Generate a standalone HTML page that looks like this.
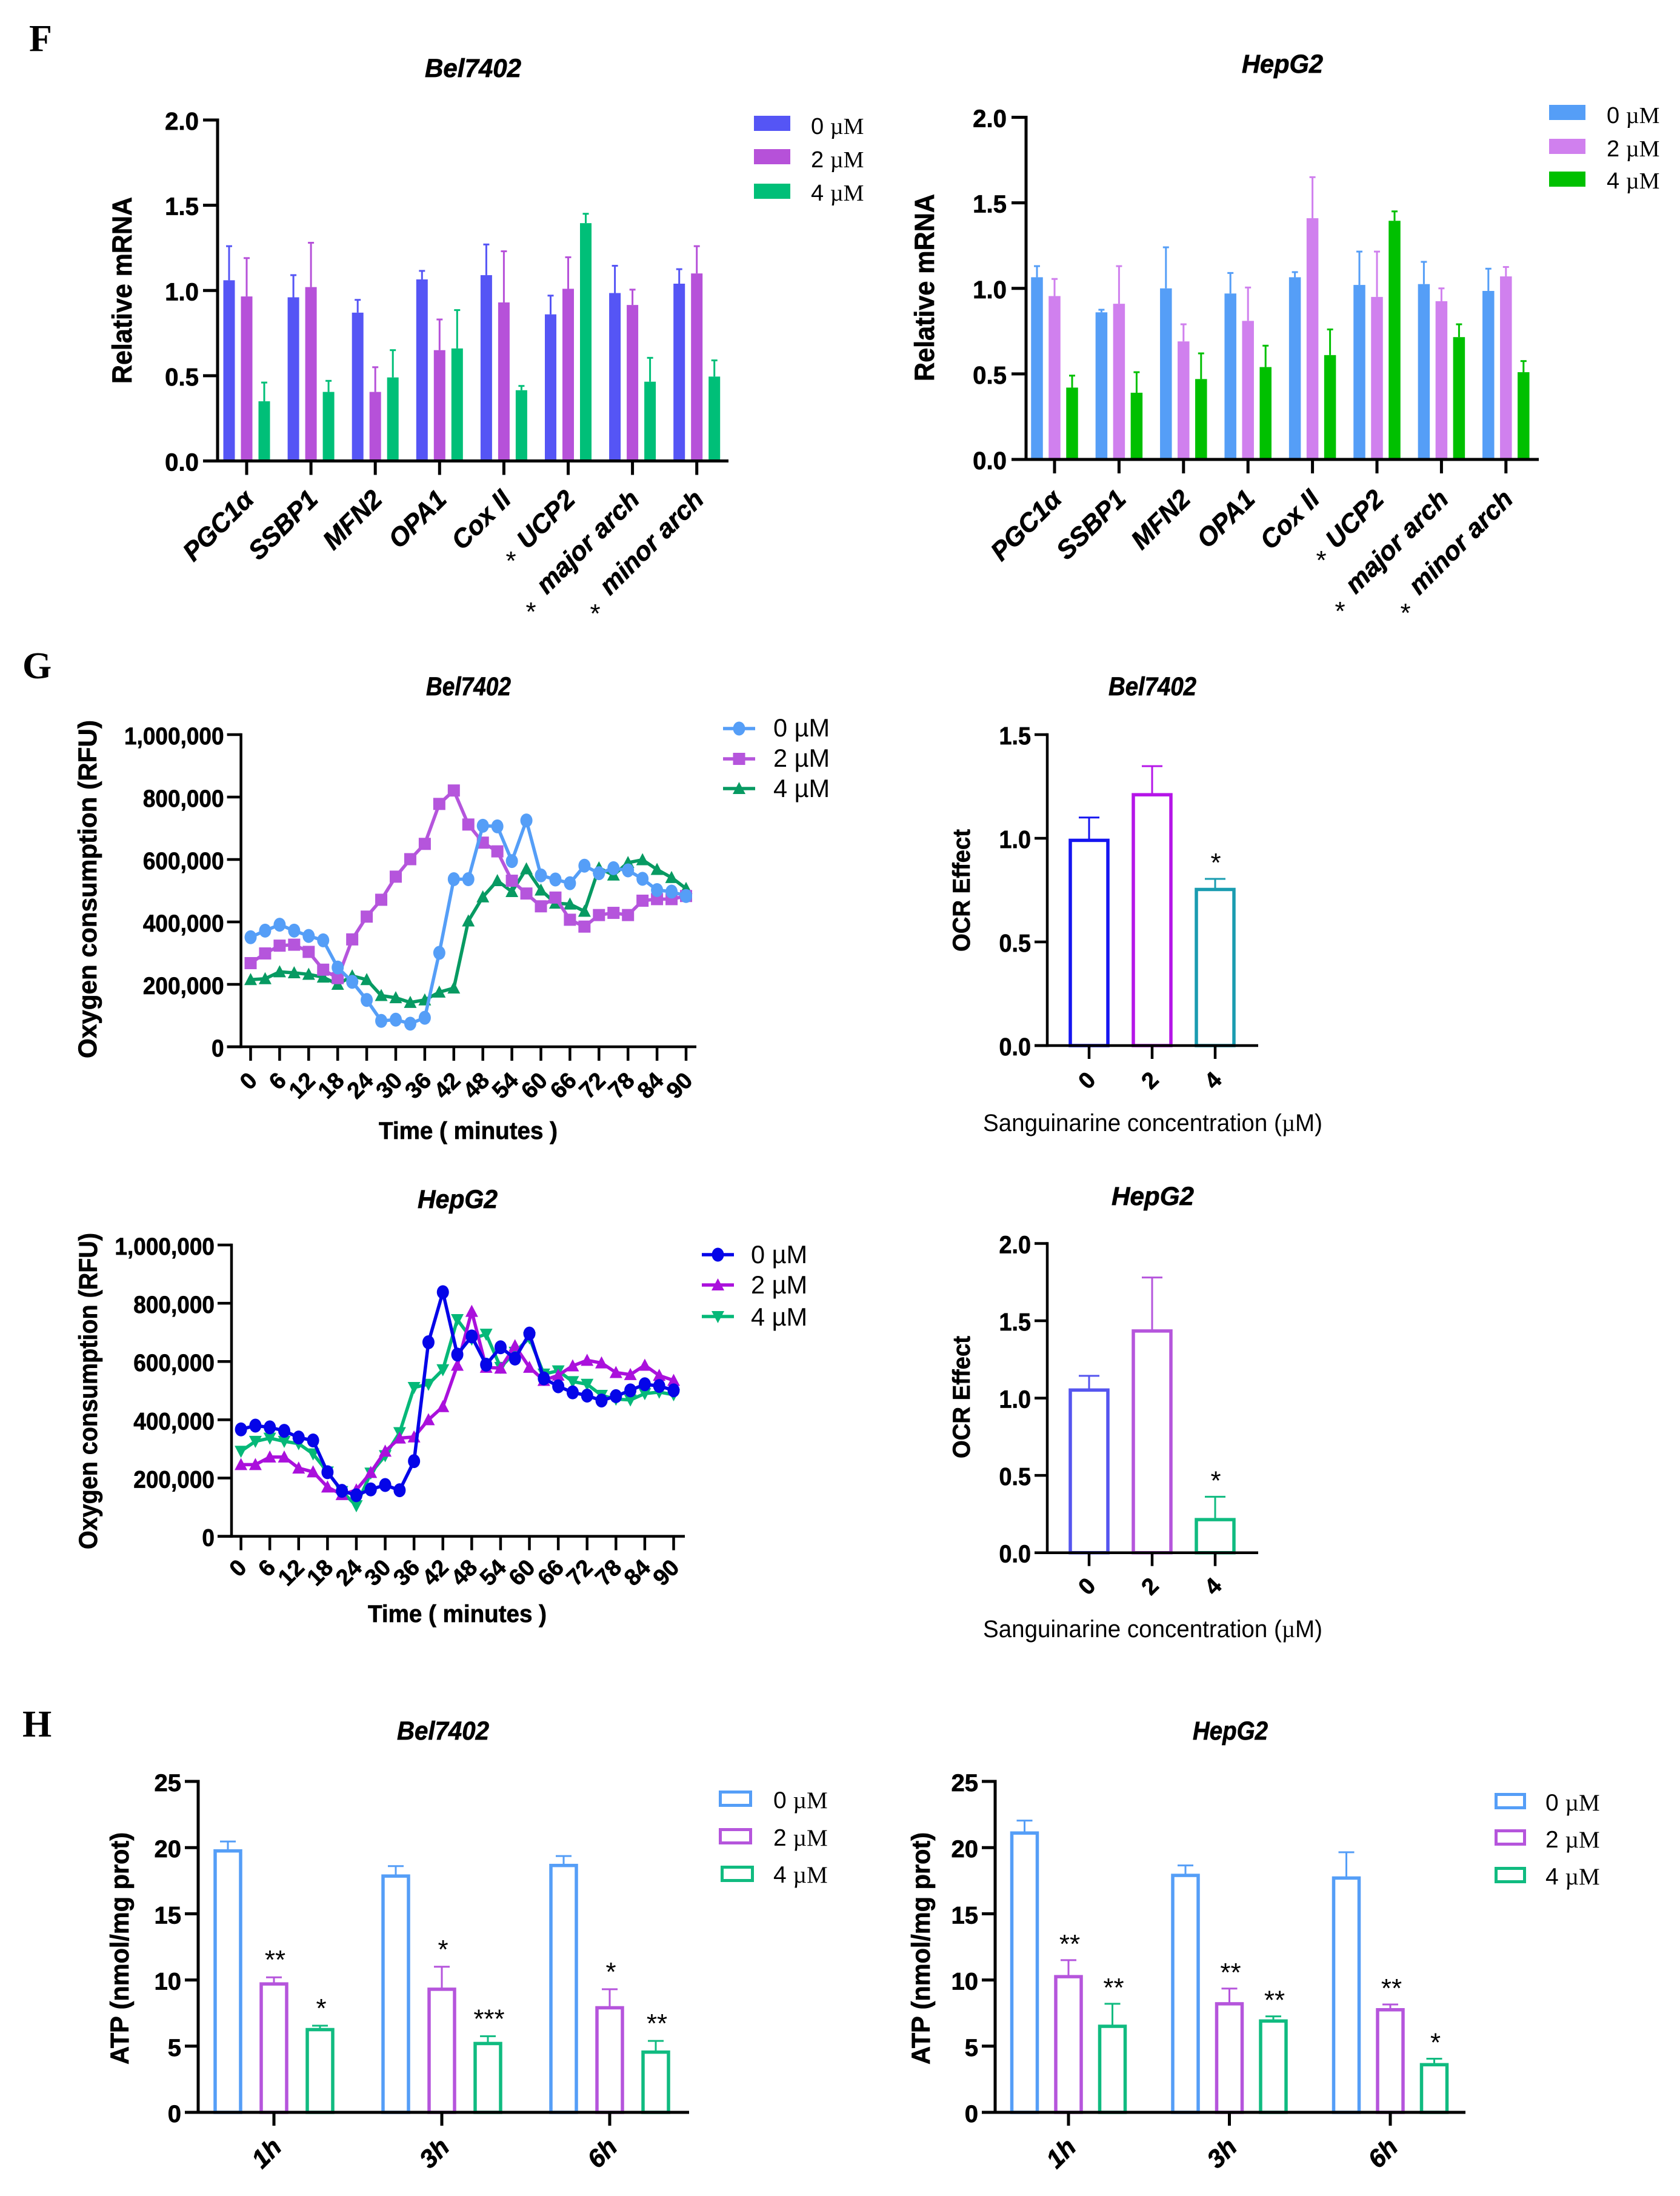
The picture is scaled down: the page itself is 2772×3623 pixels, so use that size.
<!DOCTYPE html>
<html lang="en">
<head>
<meta charset="utf-8">
<title>Sanguinarine mitochondrial function figure panels F, G, H</title>
<style>
html,body{margin:0;padding:0;background:#fff;}
svg{display:block;}
text{font-family:"Liberation Sans",Arial,sans-serif;fill:#000;}
text[font-weight="bold"],.title,.ytitle,.xtitle{stroke:#000;stroke-width:.7px;}
.letter{font-family:"Liberation Serif",serif;font-weight:bold;font-size:62px;}
.title{font-weight:bold;font-style:italic;font-size:43px;}
.ytitle{font-weight:bold;font-size:43px;}
.xtitle{font-weight:bold;font-size:40px;}
.xplain{font-size:40px;}
.serif{font-family:"Liberation Serif",serif;}
</style>
</head>
<body>
<svg id="figure" xmlns="http://www.w3.org/2000/svg" width="2772" height="3623" viewBox="0 0 2772 3623">
<rect x="0" y="0" width="2772" height="3623" fill="#fff"/>
<text class="letter" x="48" y="84">F</text>
<text class="letter" x="37" y="1119">G</text>
<text class="letter" x="37" y="2865">H</text>

<g id="f-left">
<text class="title" x="701" y="127" textLength="159" lengthAdjust="spacingAndGlyphs">Bel7402</text>
<text class="ytitle" transform="translate(217,633) rotate(-90)" style="font-size:45px" textLength="308" lengthAdjust="spacingAndGlyphs">Relative mRNA</text>
</g>
<g id="f-right">
<text class="title" x="2049" y="120" textLength="134" lengthAdjust="spacingAndGlyphs">HepG2</text>
<text class="ytitle" transform="translate(1541,629) rotate(-90)" style="font-size:45px" textLength="309" lengthAdjust="spacingAndGlyphs">Relative mRNA</text>
</g>
<g id="g-left">
<text class="title" x="703" y="1147" textLength="140" lengthAdjust="spacingAndGlyphs">Bel7402</text>
<text class="ytitle" transform="translate(159,1746) rotate(-90)" textLength="558" lengthAdjust="spacingAndGlyphs">Oxygen consumption (RFU)</text>
<text class="xtitle" x="625" y="1879" textLength="295" lengthAdjust="spacingAndGlyphs">Time ( minutes )</text>
</g>
<g id="g-right">
<text class="title" x="1829" y="1147" textLength="145" lengthAdjust="spacingAndGlyphs">Bel7402</text>
<text class="ytitle" transform="translate(1600,1570) rotate(-90)" style="font-size:40px" textLength="202" lengthAdjust="spacingAndGlyphs">OCR Effect</text>
<text class="xplain" x="1622" y="1866" textLength="560" lengthAdjust="spacingAndGlyphs">Sanguinarine concentration (<tspan class="serif">µ</tspan>M)</text>
</g>
<g id="g2-left">
<text class="title" x="689" y="1993" textLength="132" lengthAdjust="spacingAndGlyphs">HepG2</text>
<text class="ytitle" transform="translate(160,2556) rotate(-90)" textLength="522" lengthAdjust="spacingAndGlyphs">Oxygen consumption (RFU)</text>
<text class="xtitle" x="607" y="2676" textLength="295" lengthAdjust="spacingAndGlyphs">Time ( minutes )</text>
</g>
<g id="g2-right">
<text class="title" x="1834" y="1988" textLength="136" lengthAdjust="spacingAndGlyphs">HepG2</text>
<text class="ytitle" transform="translate(1600,2406) rotate(-90)" style="font-size:40px" textLength="202" lengthAdjust="spacingAndGlyphs">OCR Effect</text>
<text class="xplain" x="1622" y="2701" textLength="560" lengthAdjust="spacingAndGlyphs">Sanguinarine concentration (<tspan class="serif">µ</tspan>M)</text>
</g>
<g id="h-left">
<text class="title" x="655" y="2870" textLength="152" lengthAdjust="spacingAndGlyphs">Bel7402</text>
<text class="ytitle" transform="translate(212,3406) rotate(-90)" textLength="383" lengthAdjust="spacingAndGlyphs">ATP (nmol/mg prot)</text>
</g>
<g id="h-right">
<text class="title" x="1968" y="2870" textLength="124" lengthAdjust="spacingAndGlyphs">HepG2</text>
<text class="ytitle" transform="translate(1534,3406) rotate(-90)" textLength="383" lengthAdjust="spacingAndGlyphs">ATP (nmol/mg prot)</text>
</g>
</svg>

<script>
// ---------- Data: panel F ----------
const mrnaCategories = ['PGC1α','SSBP1','MFN2','OPA1','Cox II','UCP2','major arch','minor arch'];
const mrnaTicks = [0,0.5,1,1.5,2];
const mrnaTickLabels = ['0.0','0.5','1.0','1.5','2.0'];
const belMrna0 = [1.06,0.96,0.87,1.065,1.09,0.86,0.985,1.04];
const belMrna0Upper = [1.26,1.09,0.945,1.115,1.27,0.97,1.145,1.125];
const belMrna2 = [0.965,1.02,0.405,0.65,0.93,1.01,0.915,1.10];
const belMrna2Upper = [1.19,1.28,0.55,0.83,1.23,1.195,1.005,1.26];
const belMrna4 = [0.35,0.405,0.49,0.66,0.415,1.395,0.465,0.495];
const belMrna4Upper = [0.46,0.47,0.65,0.885,0.44,1.45,0.605,0.59];
const hepMrna0 = [1.065,0.86,1.0,0.97,1.065,1.02,1.025,0.985];
const hepMrna0Upper = [1.13,0.875,1.24,1.09,1.095,1.215,1.155,1.115];
const hepMrna2 = [0.955,0.91,0.69,0.81,1.41,0.95,0.925,1.07];
const hepMrna2Upper = [1.055,1.13,0.79,1.005,1.65,1.215,1.0,1.125];
const hepMrna4 = [0.42,0.39,0.47,0.54,0.61,1.395,0.715,0.51];
const hepMrna4Upper = [0.49,0.51,0.62,0.665,0.76,1.45,0.79,0.575];

// ---------- Data: panel G time courses (thousands of RFU) ----------
const timePoints = [0,3,6,9,12,15,18,21,24,27,30,33,36,39,42,45,48,51,54,57,60,63,66,69,72,75,78,81,84,87,90];
const timeTicks = [0,6,12,18,24,30,36,42,48,54,60,66,72,78,84,90];
const oxyTicks = [0,200,400,600,800,1000];
const oxyTickLabels = ['0','200,000','400,000','600,000','800,000','1,000,000'];
const belOxy0 = [351,372,391,372,355,341,254,208,150,83,87,74,93,301,537,537,708,706,595,725,549,536,524,580,556,572,565,538,502,497,483];
const belOxy2 = [268,299,324,327,304,247,220,344,417,471,545,601,650,778,821,712,654,626,532,491,450,478,407,385,422,429,422,468,473,473,483];
const belOxy4 = [215,218,240,237,232,223,200,227,215,164,157,142,150,175,188,403,480,532,497,570,502,460,457,434,573,550,590,599,568,542,507];
const hepOxy0 = [367,380,374,362,339,329,220,156,141,161,176,158,258,666,838,624,686,589,649,610,696,542,515,494,483,466,481,501,522,516,501];
const hepOxy2 = [246,246,272,272,234,221,169,143,159,219,292,337,341,400,445,587,772,580,577,654,580,535,553,585,604,595,562,555,587,552,535];
const hepOxy4 = [292,326,337,326,318,283,221,154,105,217,277,356,511,522,572,744,677,694,580,632,681,557,568,531,522,484,471,468,490,495,486];

// ---------- Data: panel G OCR effect ----------
const ocrCategories = ['0','2','4'];
const ocrBelTicks = [0,0.5,1,1.5];
const ocrBelTickLabels = ['0.0','0.5','1.0','1.5'];
const ocrBelMean = [0.99,1.21,0.753];
const ocrBelUpper = [1.10,1.348,0.804];
const ocrBelStars = ['','','*'];
const ocrHepTicks = [0,0.5,1,1.5,2];
const ocrHepTickLabels = ['0.0','0.5','1.0','1.5','2.0'];
const ocrHepMean = [1.052,1.434,0.214];
const ocrHepUpper = [1.144,1.78,0.362];
const ocrHepStars = ['','','*'];

// ---------- Data: panel H ATP ----------
const atpCategories = ['1h','3h','6h'];
const atpTicks = [0,5,10,15,20,25];
const atpTickLabels = ['0','5','10','15','20','25'];
const belAtp0 = [19.75,17.85,18.65];
const belAtp0Upper = [20.46,18.6,19.36];
const belAtp2 = [9.7,9.3,7.9];
const belAtp2Upper = [10.2,11.0,9.3];
const belAtp2Stars = ['**','*','*'];
const belAtp4 = [6.25,5.2,4.55];
const belAtp4Upper = [6.55,5.75,5.4];
const belAtp4Stars = ['*','***','**'];
const hepAtp0 = [21.1,17.9,17.7];
const hepAtp0Upper = [22.04,18.65,19.65];
const hepAtp2 = [10.25,8.2,7.75];
const hepAtp2Upper = [11.5,9.35,8.15];
const hepAtp2Stars = ['**','**','**'];
const hepAtp4 = [6.5,6.9,3.6];
const hepAtp4Upper = [8.2,7.25,4.05];
const hepAtp4Stars = ['**','**','*'];

const legendLabels = ['0','2','4'];

// ---------- Helpers ----------
const NS = 'http://www.w3.org/2000/svg';
function add(parent, tag, attrs, name, txt){
  const el = document.createElementNS(NS, tag);
  for (const k in attrs) el.setAttribute(k, attrs[k]);
  
  
  if (txt !== undefined) el.textContent = txt;
  parent.appendChild(el);
  return el;
}
function linearAxis(dMin, dMax, rMin, rMax){
  return v => rMin + (v - dMin) / (dMax - dMin) * (rMax - rMin);
}
function drawAxes(g, o){
  const y = o.y;
  o.ticks.forEach((t, i) => {
    add(g, 'line', {x1:o.axisX - o.tickLen, x2:o.axisX, y1:y(t), y2:y(t), stroke:'#000', 'stroke-width':o.sw}, 'y-tick');
    const lab = add(g, 'text', {x:o.axisX - o.labelGap, y:y(t) + 16, 'text-anchor':'end', 'font-weight':'bold', 'font-size':o.fs}, 'y-tick-label', o.labels[i]);
    if (o.squeeze) {
      lab.setAttribute('textLength', lab.getComputedTextLength() * o.squeeze);
      lab.setAttribute('lengthAdjust', 'spacingAndGlyphs');
    }
  });
  add(g, 'line', {x1:o.axisX, x2:o.axisX, y1:y(o.ticks[o.ticks.length - 1]) - o.sw / 2, y2:o.axisY + o.sw / 2, stroke:'#000', 'stroke-width':o.sw}, 'y-axis-line');
  add(g, 'line', {x1:o.axisX - o.tickLen, x2:o.xEnd, y1:o.axisY, y2:o.axisY, stroke:'#000', 'stroke-width':o.sw}, 'x-axis-line');
}
function xTicks(g, xs, o){
  xs.forEach((x, i) => {
    add(g, 'line', {x1:x, x2:x, y1:o.axisY, y2:o.axisY + o.xTickLen, stroke:'#000', 'stroke-width':o.sw}, 'x-tick');
    const ax = x + o.lblDx, ay = o.axisY + o.lblDy;
    const a = {'text-anchor':'end', 'font-weight':'bold', 'font-size':o.lblFs, transform:'translate(' + ax + ',' + ay + ') rotate(-45)'};
    if (o.lblItalic) a['font-style'] = 'italic';
    add(g, 'text', a, 'x-tick-label', o.labels[i]);
  });
}
function star(g, cx, cy, s){
  if (s) add(g, 'text', {x:cx, y:cy + 25, 'text-anchor':'middle', 'font-size':44}, 'significance-mark', s);
}
function errorBar(g, x, y1, y2, cap, color){
  add(g, 'line', {x1:x, x2:x, y1:y1, y2:y2, stroke:color, 'stroke-width':3}, 'error-bar');
  add(g, 'line', {x1:x - cap / 2, x2:x + cap / 2, y1:y2, y2:y2, stroke:color, 'stroke-width':3}, 'error-cap');
}
function legendLabel(g, x, y, digit, serifUnit, fs, name){
  const t = add(g, 'text', {x:x, y:y, 'font-size':fs}, name, digit + ' ');
  const u = add(t, 'tspan', serifUnit ? {'font-family':'"Liberation Serif",serif'} : {}, name + '-unit', 'µM');
  return u;
}

// filled grouped bars (panel F)
function filledChart(id, o){
  const g = document.getElementById(id);
  const y = linearAxis(0, 2, o.axisY, o.top);
  const tickX = i => o.x0 + i * o.step;
  o.means.forEach((mean, s) => {
    mean.forEach((v, i) => {
      const cx = tickX(i) + (s - 1) * o.gap;
      errorBar(g, cx, y(v), y(o.uppers[s][i]), 10, o.colors[s]);
      add(g, 'rect', {x:cx - o.bw / 2, y:y(v), width:o.bw, height:o.axisY - y(v), fill:o.colors[s]}, 'bar-' + mrnaCategories[i].replace(/[^A-Za-z0-9]+/g, '-').toLowerCase());
    });
  });
  drawAxes(g, {y:y, ticks:mrnaTicks, labels:mrnaTickLabels, axisX:o.axisX, axisY:o.axisY, xEnd:o.xEnd, tickLen:o.tickLen, labelGap:o.labelGap, fs:41, sw:5, squeeze:0.98});
  xTicks(g, mrnaCategories.map((c, i) => tickX(i)), {axisY:o.axisY, xTickLen:23, sw:5, lblDx:14, lblDy:o.lblDy, lblFs:43, lblItalic:true, labels:mrnaCategories});
  o.stars.forEach(p => star(g, p[0], p[1], '*'));
  legendLabels.forEach((l, i) => {
    add(g, 'rect', {x:o.legX, y:o.legY[i], width:60, height:25, fill:o.colors[i]}, 'legend-swatch-' + l);
    legendLabel(g, o.legTextX, o.legBase[i], l, true, 38, 'legend-label-' + l);
  });
}

// line marker
function marker(g, kind, x, y, color, name){
  if (kind === 'circle') return add(g, 'ellipse', {cx:x, cy:y, rx:10, ry:11.5, fill:color}, name);
  if (kind === 'square') return add(g, 'rect', {x:x - 10, y:y - 10, width:20, height:20, fill:color}, name);
  if (kind === 'up') return add(g, 'path', {d:'M' + x + ' ' + (y - 11) + 'L' + (x + 10.5) + ' ' + (y + 9) + 'L' + (x - 10.5) + ' ' + (y + 9) + 'Z', fill:color}, name);
  return add(g, 'path', {d:'M' + x + ' ' + (y + 11) + 'L' + (x + 10.5) + ' ' + (y - 9) + 'L' + (x - 10.5) + ' ' + (y - 9) + 'Z', fill:color}, name);
}
function lineChart(id, o){
  const g = document.getElementById(id);
  const y = linearAxis(0, 1000, o.axisY, o.top);
  const x = linearAxis(0, 90, o.x0, o.x90);
  drawAxes(g, {y:y, ticks:oxyTicks, labels:oxyTickLabels, axisX:o.axisX, axisY:o.axisY, xEnd:o.xEnd, tickLen:23, labelGap:28, fs:40, sw:4.5, squeeze:0.925});
  xTicks(g, timeTicks.map(x), {axisY:o.axisY, xTickLen:23, sw:4.5, lblDx:o.lblDx, lblDy:o.lblDy, lblFs:38, lblItalic:false, labels:timeTicks.map(String)});
  o.order.forEach(s => {
    const vals = o.series[s];
    add(g, 'polyline', {points:vals.map((v, i) => x(timePoints[i]) + ',' + y(v)).join(' '), fill:'none', stroke:o.colors[s], 'stroke-width':5.5, 'stroke-linejoin':'round'}, 'line-' + legendLabels[s] + '-um');
    vals.forEach((v, i) => marker(g, o.kinds[s], x(timePoints[i]), y(v), o.colors[s], 'point-' + legendLabels[s] + '-um'));
  });
  legendLabels.forEach((l, i) => {
    add(g, 'line', {x1:o.legX, x2:o.legX + 53, y1:o.legY[i], y2:o.legY[i], stroke:o.colors[i], 'stroke-width':5.5}, 'legend-line-' + l);
    marker(g, o.kinds[i], o.legX + 26.5, o.legY[i], o.colors[i], 'legend-marker-' + l);
    legendLabel(g, o.legTextX, o.legBase[i], l, false, 41.5, 'legend-label-' + l);
  });
}

// outlined single bars (OCR)
function ocrChart(id, o){
  const g = document.getElementById(id);
  const dMax = o.ticks[o.ticks.length - 1];
  const y = linearAxis(0, dMax, o.axisY, o.top);
  const tickX = i => 1797 + i * 104;
  o.mean.forEach((v, i) => {
    errorBar(g, tickX(i), y(v), y(o.upper[i]), 34, o.colors[i]);
    add(g, 'rect', {x:tickX(i) - 31, y:y(v), width:62, height:o.axisY - y(v), fill:'#fff', stroke:o.colors[i], 'stroke-width':5.5}, 'bar-' + ocrCategories[i] + '-um');
    star(g, tickX(i) + 1, y(o.upper[i]) - 37, o.stars[i]);
  });
  drawAxes(g, {y:y, ticks:o.ticks, labels:o.labels, axisX:1728, axisY:o.axisY, xEnd:2076, tickLen:21, labelGap:27, fs:41, sw:4.5, squeeze:0.92});
  xTicks(g, ocrCategories.map((c, i) => tickX(i)), {axisY:o.axisY, xTickLen:22, sw:4.5, lblDx:13, lblDy:o.lblDy, lblFs:38, lblItalic:false, labels:ocrCategories});
}

// outlined grouped bars (ATP)
function atpChart(id, o){
  const g = document.getElementById(id);
  const y = linearAxis(0, 25, o.axisY, o.top);
  const tickX = i => o.x0 + i * o.step;
  o.means.forEach((mean, s) => {
    mean.forEach((v, i) => {
      const cx = tickX(i) + (s - 1) * o.gap;
      errorBar(g, cx, y(v), y(o.uppers[s][i]), 26, o.colors[s]);
      add(g, 'rect', {x:cx - 21, y:y(v), width:42, height:o.axisY - y(v), fill:'#fff', stroke:o.colors[s], 'stroke-width':5.5}, 'bar-' + atpCategories[i] + '-' + legendLabels[s] + '-um');
      if (o.stars[s]) star(g, cx + 2, y(o.uppers[s][i]) - o.starGap, o.stars[s][i]);
    });
  });
  drawAxes(g, {y:y, ticks:atpTicks, labels:atpTickLabels, axisX:o.axisX, axisY:o.axisY, xEnd:o.xEnd, tickLen:22, labelGap:28, fs:40, sw:5});
  xTicks(g, atpCategories.map((c, i) => tickX(i)), {axisY:o.axisY, xTickLen:22, sw:5, lblDx:15, lblDy:60, lblFs:42, lblItalic:true, labels:atpCategories});
  legendLabels.forEach((l, i) => {
    add(g, 'rect', {x:o.legX[i] + 2.5, y:o.legY[i] + 2.5, width:o.legW - 5, height:22, fill:'#fff', stroke:o.colors[i], 'stroke-width':5}, 'legend-swatch-' + l);
    legendLabel(g, o.legTextX, o.legBase[i], l, true, 39, 'legend-label-' + l);
  });
}

// ---------- Render ----------
filledChart('f-left', {
  means:[belMrna0, belMrna2, belMrna4], uppers:[belMrna0Upper, belMrna2Upper, belMrna4Upper],
  colors:['#5555f5','#b651d9','#00bf78'], axisX:359, axisY:760.5, top:198, xEnd:1202,
  tickLen:24, labelGap:31, x0:407, step:106.1, gap:29, bw:19, lblDy:66,
  stars:[[843,915],[876,999],[982,1002]],
  legX:1244, legY:[191,246,303], legTextX:1338, legBase:[221,276,331]
});
filledChart('f-right', {
  means:[hepMrna0, hepMrna2, hepMrna4], uppers:[hepMrna0Upper, hepMrna2Upper, hepMrna4Upper],
  colors:['#559ef7','#d080ee','#00c000'], axisX:1693, axisY:758, top:193.5, xEnd:2539,
  tickLen:24, labelGap:32, x0:1740, step:106.4, gap:29, bw:19.5, lblDy:68,
  stars:[[2180,914],[2211,998],[2319,1001]],
  legX:2556, legY:[173,229,283], legTextX:2651, legBase:[203,258,311]
});
lineChart('g-left', {
  series:[belOxy0, belOxy2, belOxy4], order:[2,1,0], kinds:['circle','square','up'],
  colors:['#559ef7','#b555dc','#079a62'], axisX:397.6, axisY:1727, top:1212, xEnd:1149,
  x0:413.5, x90:1132, lblDx:13, lblDy:58,
  legX:1193, legY:[1202,1252,1301], legTextX:1276, legBase:[1215,1265,1315]
});
lineChart('g2-left', {
  series:[hepOxy0, hepOxy2, hepOxy4], order:[2,1,0], kinds:['circle','up','down'],
  colors:['#0505e8','#aa10dc','#05b878'], axisX:382, axisY:2534.6, top:2054, xEnd:1130,
  x0:397.6, x90:1111.5, lblDx:11.5, lblDy:54,
  legX:1158, legY:[2070,2120,2172], legTextX:1239, legBase:[2084,2134,2187]
});
ocrChart('g-right', {
  mean:ocrBelMean, upper:ocrBelUpper, stars:ocrBelStars, ticks:ocrBelTicks, labels:ocrBelTickLabels,
  colors:['#1515f0','#b515e8','#1a9cb0'], axisY:1725, top:1212, lblDy:59
});
ocrChart('g2-right', {
  mean:ocrHepMean, upper:ocrHepUpper, stars:ocrHepStars, ticks:ocrHepTicks, labels:ocrHepTickLabels,
  colors:['#5555ef','#b555dc','#10bb80'], axisY:2561.7, top:2051.5, lblDy:57
});
atpChart('h-left', {
  means:[belAtp0, belAtp2, belAtp4], uppers:[belAtp0Upper, belAtp2Upper, belAtp4Upper],
  stars:[null, belAtp2Stars, belAtp4Stars], colors:['#559ef7','#b555dc','#10bb80'],
  axisX:327, axisY:3485, top:2939, xEnd:1137, x0:452, step:277, gap:76, starGap:39,
  legX:[1186,1186,1189], legW:55, legY:[2954,3016,3078], legTextX:1276, legBase:[2983,3045,3106]
});
atpChart('h-right', {
  means:[hepAtp0, hepAtp2, hepAtp4], uppers:[hepAtp0Upper, hepAtp2Upper, hepAtp4Upper],
  stars:[null, hepAtp2Stars, hepAtp4Stars], colors:['#559ef7','#b555dc','#10bb80'],
  axisX:1642, axisY:3485, top:2939, xEnd:2418, x0:1763, step:265.5, gap:72.5, starGap:37,
  legX:[2466,2466,2466], legW:52, legY:[2958,3018,3080], legTextX:2550, legBase:[2987,3048,3109]
});
</script>
</body>
</html>
